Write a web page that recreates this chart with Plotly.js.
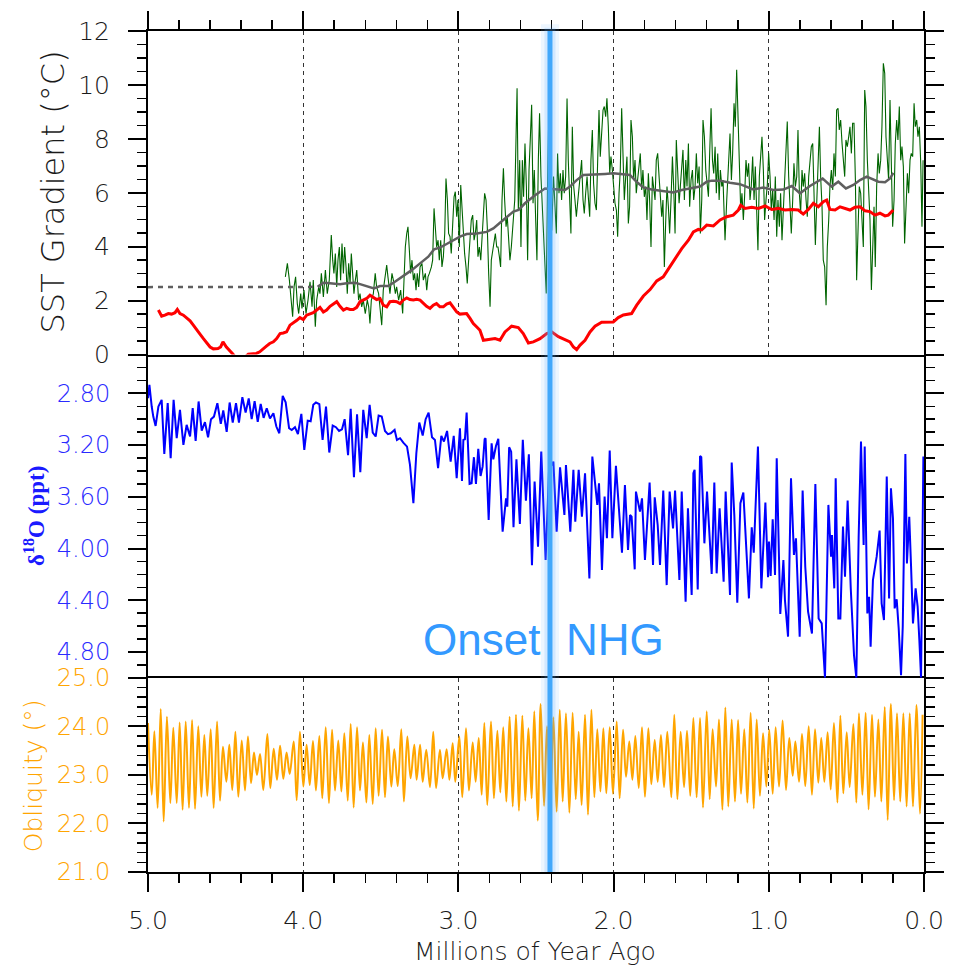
<!DOCTYPE html>
<html><head><meta charset="utf-8">
<script src="https://cdn.plot.ly/plotly-3.0.1.min.js"></script>
<style>html,body{margin:0;padding:0;background:#fff;} #chart{width:958px;height:965px;}</style>
</head><body><div id="chart"></div>
<script>
// ---------- SST gradient (green, high-resolution) ----------
const sstAge = [
4.115,4.102,4.089,4.076,4.068,4.059,4.049,4.038,4.029,4.016,
4.008,3.995,3.982,3.969,3.956,3.943,3.935,3.922,3.913,3.900,
3.892,3.883,3.870,3.857,3.845,3.832,3.819,3.810,3.802,3.793,
3.784,3.776,3.767,3.759,3.750,3.741,3.733,3.724,3.716,3.707,
3.698,3.690,3.681,3.673,3.664,3.655,3.643,3.634,3.623,3.613,
3.600,3.587,3.578,3.570,3.561,3.548,3.536,3.527,3.514,3.505,
3.494,3.484,3.471,3.462,3.454,3.441,3.428,3.419,3.406,3.398,
3.385,3.372,3.359,3.351,3.342,3.333,3.325,3.316,3.308,3.299,
3.290,3.282,3.273,3.265,3.256,3.247,3.235,3.226,3.213,3.204,
3.196,3.187,3.174,3.166,3.157,3.149,3.140,3.131,3.123,3.114,
3.106,3.097,3.088,3.080,3.071,3.063,3.054,3.046,3.037,3.028,
3.020,3.011,3.003,2.994,2.985,2.977,2.968,2.960,2.951,2.943,
2.934,2.925,2.917,2.908,2.899,2.891,2.882,2.874,2.865,2.856,
2.848,2.839,2.831,2.822,2.814,2.805,2.796,2.788,2.775,2.762,
2.753,2.745,2.736,2.728,2.719,2.710,2.702,2.693,2.685,2.676,
2.668,2.659,2.646,2.637,
2.622,2.614,2.605,2.597,2.588,2.580,2.571,2.562,2.554,2.545,
2.537,2.528,2.519,2.511,2.502,2.494,2.485,2.477,2.468,2.459,
2.451,2.442,2.434,2.425,2.416,2.408,2.399,2.387,2.378,2.369,
2.361,2.352,2.343,2.335,2.326,2.318,2.309,2.300,2.292,2.283,
2.275,2.266,2.257,2.249,2.240,2.232,2.223,2.214,2.206,2.197,
2.189,2.180,2.171,2.163,2.154,2.146,2.137,2.129,2.120,2.111,
2.103,2.094,2.086,2.077,2.068,2.060,2.051,2.043,2.034,2.025,
2.017,2.008,2.000,1.991,1.982,1.974,1.965,1.957,1.948,1.940,
1.931,1.922,1.914,1.905,1.897,1.888,1.879,1.871,1.862,1.854,
1.845,1.836,1.828,1.819,1.811,1.802,1.793,1.785,1.776,1.768,
1.759,1.750,1.742,1.733,1.725,1.716,1.707,1.699,1.690,1.682,
1.673,1.664,1.656,1.647,1.639,1.630,1.621,1.613,1.604,1.596,
1.587,1.578,1.570,1.561,1.553,1.544,1.535,1.527,1.518,1.510,
1.501,1.492,1.484,1.475,1.467,1.458,1.449,1.441,1.432,1.424,
1.415,1.406,1.398,1.389,1.381,1.372,1.363,1.355,1.346,1.338,
1.329,1.320,1.312,1.303,1.295,1.286,
1.282,1.271,1.261,1.250,1.241,1.233,1.224,1.216,1.207,1.198,
1.190,1.181,1.173,1.164,1.156,1.147,1.138,1.130,1.121,1.113,
1.104,1.095,1.087,1.078,1.070,1.061,1.052,1.044,1.035,1.027,
1.018,1.009,1.001,0.992,0.984,0.975,0.966,0.958,0.949,0.941,
0.932,0.924,0.915,0.906,0.898,0.889,0.881,0.872,0.863,0.855,
0.846,0.838,0.829,0.820,0.812,0.803,0.795,0.786,0.778,0.769,
0.760,0.752,0.743,0.735,0.726,0.717,0.709,0.700,0.692,0.683,
0.674,0.666,0.657,0.649,0.640,0.631,0.623,0.614,0.606,0.597,
0.588,0.580,0.571,0.563,0.554,0.546,0.537,0.528,0.520,0.511,
0.503,0.494,0.485,0.477,0.468,0.460,0.451,0.442,0.434,0.425,
0.417,0.408,0.399,0.391,0.382,0.374,0.365,0.357,0.348,0.339,
0.331,0.322,0.314,0.305,0.296,0.288,0.279,0.271,0.262,0.253,
0.245,0.236,0.228,0.219,0.211,0.202,0.193,0.185,0.176,0.168,
0.159,0.150,0.142,0.133,0.125,0.116,0.107,0.099,0.090,0.082,
0.073,0.064,0.056,0.047,0.039,0.030,0.021,0.013,0.006
];
const sstVal = [
2.88,3.38,2.76,2.02,1.40,2.51,2.88,1.89,1.52,2.26,
1.71,2.39,1.52,2.02,2.70,1.77,2.76,1.03,2.02,2.51,
2.26,3.01,2.14,3.13,2.26,2.76,4.43,3.50,3.01,3.75,
2.51,3.50,3.99,2.76,4.12,3.01,3.99,3.25,2.26,3.38,
2.64,3.75,3.13,2.26,2.76,3.13,2.02,2.26,1.77,2.02,
1.52,2.02,1.77,1.15,2.02,2.26,3.01,2.51,2.26,1.77,
1.09,2.39,3.01,3.32,2.88,2.26,3.01,2.76,2.26,2.51,
2.02,2.39,1.52,3.01,3.99,4.49,4.74,3.87,3.01,3.50,
2.76,3.01,2.39,3.01,2.51,3.25,3.38,2.76,3.01,2.39,
2.88,3.01,3.25,3.50,5.42,4.74,3.99,4.24,3.50,4.24,
3.25,3.63,4.49,6.53,5.73,4.49,4.37,3.75,4.99,5.85,
6.04,5.11,5.73,3.99,6.29,5.36,4.49,3.75,3.25,2.64,
3.50,4.37,4.99,5.17,4.24,4.49,4.99,3.63,3.99,3.50,
4.24,4.99,5.98,5.73,4.74,3.01,1.77,3.50,3.99,4.49,
3.99,3.99,3.63,3.25,5.73,6.91,5.73,4.74,5.11,4.24,
3.50,3.99,5.11,5.73,
9.88,5.36,7.21,3.99,7.21,5.85,7.83,6.23,3.50,6.84,
7.96,9.26,5.61,6.84,4.99,3.50,7.21,8.95,6.60,5.48,
4.49,3.25,2.26,6.60,9.38,5.61,4.60,6.60,5.48,4.49,
7.46,5.98,6.72,5.73,6.84,5.98,6.60,9.50,7.21,5.36,
4.49,8.45,6.23,5.73,5.11,5.61,6.23,6.84,7.21,5.73,
5.23,5.98,6.60,5.85,5.11,7.21,8.33,6.35,5.61,5.36,
7.46,9.07,7.34,8.45,9.07,9.20,8.82,9.50,8.45,6.72,
7.34,6.84,6.35,5.61,5.36,4.37,5.98,6.84,9.13,7.21,
5.73,6.60,7.34,4.86,5.48,8.70,8.08,6.47,7.21,5.98,
6.60,7.09,7.46,6.10,6.84,5.85,6.23,4.99,6.72,5.73,
3.99,6.60,6.23,5.73,7.21,7.46,6.60,5.98,5.11,5.73,
3.25,4.99,6.23,5.48,4.49,5.73,7.34,6.23,4.49,7.96,
6.84,5.61,6.23,7.09,7.59,5.73,7.21,6.23,7.83,5.48,
6.47,6.84,5.73,6.23,7.46,6.35,6.97,4.49,5.73,8.70,
8.08,6.84,6.47,5.85,7.46,9.13,7.21,6.72,7.71,5.98,
7.46,5.73,6.84,6.23,6.47,4.37,
4.24,5.73,7.21,8.20,6.47,7.46,9.32,8.45,10.56,8.45,
6.84,5.36,5.98,4.99,5.85,7.21,6.60,7.09,5.73,6.23,
7.34,5.73,6.97,5.23,3.87,6.60,7.46,8.08,6.84,4.99,
5.73,6.35,7.46,6.60,5.36,6.10,4.99,6.60,4.37,5.73,
4.74,5.98,4.24,5.48,6.84,7.46,8.64,6.60,5.36,4.49,
5.73,7.09,6.23,6.60,8.33,5.98,5.23,6.84,6.23,6.72,
5.73,5.11,6.60,7.21,7.71,7.83,5.73,4.06,5.48,7.21,
8.45,6.60,5.48,3.50,3.25,1.83,3.99,4.99,6.23,6.84,
6.10,7.46,6.60,9.07,9.13,8.33,8.70,7.83,7.21,6.60,
7.96,7.71,8.08,8.45,7.46,8.58,8.58,6.47,2.76,4.49,
6.23,5.98,5.11,3.99,9.81,9.20,7.21,6.23,4.99,2.39,
3.99,5.48,3.25,6.23,7.46,6.72,7.21,8.45,10.80,10.43,
8.08,7.21,6.47,9.44,7.21,4.74,5.73,7.83,8.70,7.96,
9.20,7.21,7.71,6.97,4.12,5.73,6.72,5.98,7.21,7.46,
7.34,9.32,8.45,8.70,8.08,8.45,7.09,4.74,7.21
];

// ---------- smoothed SST gradient (grey) ----------
const baseAge = [5.0, 3.907];
const baseVal = [2.5, 2.51];
const smoothAge = [3.907,3.870,3.828,3.763,3.720,3.666,3.634,3.591,3.544,3.505,
3.452,3.409,3.355,3.301,3.247,3.194,3.157,3.119,3.076,3.033,
2.990,2.947,2.882,2.818,2.775,2.732,2.689,2.646,2.612,2.571,
2.506,2.442,2.399,2.356,2.313,2.281,2.238,2.195,2.120,2.055,
2.002,1.948,1.895,1.852,1.809,1.755,1.690,1.615,1.561,1.497,
1.443,1.400,1.368,1.314,1.250,1.186,1.100,1.035,0.971,0.906,
0.852,0.799,0.735,0.653,0.595,0.552,0.503,0.455,0.412,0.369,
0.326,0.294,0.251,0.219,0.197];
const smoothVal = [2.51,2.66,2.64,2.61,2.64,2.66,2.61,2.54,2.45,2.54,
2.54,2.70,2.91,3.13,3.38,3.63,3.90,3.97,4.10,4.24,
4.37,4.47,4.49,4.55,4.68,4.89,5.11,5.30,5.36,5.61,
5.91,6.16,6.14,6.12,6.10,6.23,6.47,6.66,6.67,6.70,
6.72,6.70,6.66,6.41,6.20,6.12,6.08,6.01,6.10,6.16,
6.23,6.41,6.45,6.45,6.37,6.32,6.12,6.19,6.10,6.12,
6.25,5.98,6.25,6.53,6.23,6.41,6.16,6.29,6.47,6.60,
6.50,6.41,6.39,6.53,6.74];

// ---------- red curve ----------
const redAge = [4.933,4.912,4.891,4.869,4.848,4.826,4.811,4.794,4.772,4.751,
4.729,4.708,4.686,4.665,4.643,4.621,4.600,4.579,4.549,4.532,
4.517,4.495,4.474,4.452,4.431,4.397,4.354,4.323,4.302,4.280,
4.259,4.237,4.216,4.192,4.171,4.149,4.128,4.107,4.085,4.063,
4.041,4.021,3.999,3.978,3.956,3.935,3.913,3.892,3.870,3.849,
3.827,3.806,3.784,3.763,3.741,3.720,3.698,3.677,3.655,3.634,
3.613,3.591,3.570,3.548,3.527,3.505,3.484,3.462,3.441,3.419,
3.398,3.376,3.355,3.333,3.312,3.290,3.269,3.247,3.226,3.205,
3.183,3.162,3.141,3.119,3.097,3.076,3.054,3.033,3.011,2.990,
2.969,2.947,2.925,2.904,2.883,2.861,
2.839,2.807,2.764,2.732,2.700,2.657,2.614,2.582,2.549,2.517,
2.474,2.431,2.399,2.356,2.313,2.281,2.259,2.238,2.216,2.184,
2.152,2.120,2.077,2.034,2.002,1.970,1.937,1.884,1.851,1.808,
1.765,1.722,1.680,1.637,1.594,1.561,1.518,1.486,1.454,1.433,
1.400,1.357,1.314,1.271,1.229,1.196,1.181,1.153,1.110,1.067,
1.024,0.981,0.939,0.896,0.853,0.810,0.778,0.745,0.713,0.681,
0.649,0.627,0.606,0.573,0.541,0.509,0.477,0.445,0.412,0.380,
0.348,0.316,0.284,0.251,0.230,0.198];
const redVal = [1.65,1.42,1.46,1.52,1.50,1.55,1.67,1.52,1.46,1.34,
1.25,1.09,0.90,0.76,0.59,0.43,0.28,0.21,0.22,0.28,
0.47,0.28,0.16,0.01,-0.15,-0.21,0.01,0.04,0.04,0.10,
0.22,0.31,0.41,0.47,0.59,0.78,0.80,0.84,1.09,1.17,
1.27,1.37,1.30,1.46,1.52,1.55,1.65,1.75,1.58,1.65,
1.79,1.87,1.96,1.79,1.65,1.71,1.67,1.67,1.75,1.96,
2.02,2.08,2.20,2.10,2.04,2.08,1.83,1.77,1.96,1.98,
1.96,1.89,2.02,2.10,2.04,2.02,2.05,2.02,1.89,1.79,
1.71,1.83,1.89,1.77,1.77,1.87,1.92,1.75,1.58,1.50,
1.52,1.52,1.34,1.15,1.03,0.90,
0.53,0.56,0.59,0.53,0.84,1.05,1.00,0.78,0.43,0.47,
0.59,0.78,0.84,0.66,0.56,0.47,0.28,0.18,0.35,0.53,
0.84,1.05,1.20,1.20,1.21,1.37,1.47,1.52,1.83,2.17,
2.41,2.73,2.88,3.26,3.63,3.93,4.24,4.55,4.64,4.62,
4.80,4.77,4.99,5.11,5.17,5.36,5.54,5.42,5.46,5.42,
5.51,5.38,5.42,5.36,5.38,5.36,5.21,5.38,5.61,5.48,
5.67,5.73,5.38,5.36,5.48,5.42,5.36,5.46,5.48,5.33,
5.30,5.17,5.24,5.14,5.17,5.36];

// ---------- delta 18O (blue) ----------
const d18Age = [
5.000,4.991,4.976,4.966,4.951,4.933,4.912,4.895,4.873,4.854,
4.835,4.815,4.794,4.772,4.751,4.729,4.712,4.693,4.674,4.654,
4.633,4.613,4.594,4.575,4.553,4.531,4.515,4.493,4.474,4.454,
4.433,4.414,4.392,4.371,4.351,4.332,4.313,4.293,4.274,4.255,
4.235,4.214,4.192,4.173,4.154,4.132,4.113,4.091,4.074,4.053,
4.034,4.012,3.993,3.971,3.952,3.935,3.918,3.896,3.875,3.853,
3.832,3.810,3.789,3.769,3.750,3.733,3.711,3.694,3.673,3.653,
3.632,3.613,3.591,3.572,3.552,3.533,3.514,3.494,3.473,3.454,
3.436,3.411,3.396,3.376,3.355,3.331,3.312,3.290,3.271,3.252,
3.230,3.211,3.192,3.170,3.151,3.131,3.110,3.093,3.073,3.050,
3.030,3.011,2.990,2.977,2.968,2.958,2.947,2.928,2.915,2.900,
2.887,2.872,2.857,2.844,2.831,2.825,2.805,2.786,2.775,2.758,
2.743,2.715,2.693,2.685,2.673,2.660,2.645,2.626,2.604,2.585,
2.565,2.546,2.526,2.509,2.487,2.466,2.438,2.416,2.388,2.367,
2.345,2.317,2.307,2.279,2.259,2.247,2.225,2.204,2.184,2.156,
2.137,2.120,2.105,2.094,2.075,2.058,2.043,2.025,2.008,1.985,
1.967,1.946,1.927,1.907,1.894,1.884,1.864,1.856,1.830,1.817,
1.798,1.768,1.746,1.735,1.716,1.701,1.680,1.658,1.639,1.617,
1.604,1.576,1.561,1.536,1.521,1.497,1.486,1.478,1.458,1.443,
1.435,1.415,1.398,1.368,1.351,1.336,1.317,1.291,1.278,1.250,
1.239,1.222,1.203,1.183,1.164,1.128,1.110,1.097,1.070,1.048,
1.022,1.005,0.999,0.988,0.975,0.960,0.949,0.926,0.906,0.896,
0.876,0.857,0.838,0.825,0.801,0.782,0.765,0.747,0.722,0.700,
0.679,0.659,0.638,0.616,0.599,0.593,0.578,0.569,0.552,0.539,
0.522,0.509,0.492,0.472,0.451,0.436,0.421,0.406,0.389,0.382,
0.365,0.354,0.344,0.329,0.305,0.286,0.273,0.258,0.240,0.225,
0.213,0.200,0.189,0.176,0.163,0.148,0.137,0.120,0.110,0.095,
0.084,0.071,0.054,0.041,0.030,0.019,0.004];
const d18Val = [
2.838,2.734,2.902,2.980,3.052,2.902,2.851,3.269,2.876,3.302,
2.851,3.147,2.928,3.199,3.044,3.134,2.915,3.168,2.863,3.088,
3.023,3.140,3.000,2.980,2.876,3.036,2.933,3.098,2.871,3.026,
2.876,3.026,2.830,2.949,2.840,3.000,2.861,3.021,2.882,2.990,
2.915,2.995,2.954,3.057,3.109,2.820,2.869,3.070,3.083,3.062,
3.116,2.959,3.238,3.011,3.016,2.889,2.871,2.884,3.160,2.902,
3.258,3.049,3.062,3.091,3.078,3.000,3.279,2.920,3.449,2.962,
3.410,2.928,3.147,2.889,3.103,3.134,2.972,2.980,3.091,3.116,
3.109,3.083,3.160,3.147,3.181,3.212,3.354,3.650,3.263,3.026,
3.127,3.000,2.949,3.140,3.160,3.379,3.129,3.173,3.091,3.328,
3.129,3.457,3.070,3.478,3.160,3.155,2.949,3.501,3.496,3.294,
3.501,3.230,3.439,3.367,3.155,3.147,3.779,3.186,3.310,3.207,
3.152,3.870,3.612,3.676,3.217,3.251,3.836,3.310,3.810,3.160,
3.630,3.271,4.130,3.483,3.986,3.251,4.089,3.392,3.328,3.870,
3.372,3.741,3.354,3.870,3.392,3.792,3.392,3.754,3.418,4.231,
3.289,3.496,3.663,3.496,4.166,3.599,3.921,3.243,3.921,3.361,
3.638,4.032,3.509,4.012,3.741,3.754,4.161,3.560,3.715,3.612,
4.089,3.490,4.128,3.604,3.818,4.128,3.552,4.283,3.560,3.844,
3.552,4.244,3.560,4.411,3.689,4.360,3.418,3.392,4.316,3.284,
3.294,3.960,3.560,4.197,3.490,4.192,3.689,4.257,3.560,4.360,
3.336,3.748,4.419,3.650,3.568,4.386,3.836,4.032,3.212,4.308,
3.645,4.223,3.947,4.213,3.774,4.205,3.302,4.507,4.089,4.399,
4.682,3.457,4.050,3.921,4.682,3.552,4.141,4.489,4.657,3.501,
4.541,4.579,5.000,3.663,4.063,3.896,4.308,3.457,4.541,4.541,
3.831,4.218,3.630,4.308,4.824,5.000,3.908,3.173,3.973,3.212,
4.502,4.373,4.760,4.244,4.063,3.862,4.424,4.553,3.444,4.386,
3.534,3.767,4.463,4.393,4.618,4.979,4.605,3.269,4.115,3.754,
4.115,4.579,4.308,4.450,4.708,5.000,3.289];

// ---------- obliquity (orange): successive maxima / minima ----------
const oblAge = [
5.000,4.976,4.959,4.938,4.918,4.899,4.878,4.856,4.837,4.815,
4.796,4.777,4.757,4.736,4.716,4.697,4.676,4.656,4.637,4.618,
4.596,4.577,4.555,4.536,4.517,4.495,4.476,4.457,4.437,4.418,
4.396,4.375,4.356,4.336,4.317,4.298,4.278,4.257,4.231,4.212,
4.190,4.169,4.149,4.128,4.107,4.087,4.061,4.042,4.021,3.999,
3.978,3.958,3.937,3.918,3.896,3.877,3.855,3.834,3.814,3.795,
3.774,3.754,3.735,3.713,3.694,3.675,3.653,3.634,3.615,3.593,
3.574,3.552,3.533,3.514,3.492,3.473,3.454,3.432,3.413,3.391,
3.368,3.351,3.329,3.308,3.284,3.269,3.247,3.230,3.207,3.183,
3.162,3.144,3.119,3.101,3.076,3.058,3.037,3.020,2.994,2.975,
2.951,2.932,2.908,2.889,2.869,2.850,2.833,2.814,2.790,2.771,
2.749,2.730,2.711,2.691,2.670,2.650,2.629,2.610,2.588,2.569,
2.549,2.528,2.511,2.489,2.470,2.448,2.429,2.408,2.388,2.367,
2.347,2.328,2.307,2.285,2.264,2.244,2.225,2.206,2.184,2.165,
2.143,2.124,2.105,2.085,2.066,2.047,2.025,2.004,1.980,1.961,
1.939,1.920,1.899,1.879,1.860,1.838,1.817,1.798,1.776,1.757,
1.735,1.716,1.695,1.675,1.654,1.628,1.609,1.589,1.568,1.546,
1.527,1.506,1.486,1.465,1.443,1.424,1.400,1.381,1.362,1.340,
1.321,1.299,1.280,1.261,1.239,1.218,1.198,1.179,1.158,1.138,
1.117,1.097,1.078,1.057,1.037,1.016,0.997,0.975,0.956,0.934,
0.911,0.889,0.868,0.846,0.829,0.805,0.786,0.765,0.743,0.722,
0.702,0.681,0.662,0.642,0.621,0.601,0.580,0.558,0.539,0.520,
0.498,0.479,0.455,0.436,0.419,0.397,0.376,0.357,0.335,0.316,
0.294,0.275,0.253,0.234,0.213,0.193,0.174,0.153,0.133,0.112,
0.092,0.071,0.049,0.026,0.009];
const oblVal = [
24.07,22.59,23.90,22.32,24.36,22.04,24.20,22.42,23.97,22.42,
24.08,22.28,24.10,22.32,24.13,22.30,24.00,22.55,23.82,22.57,
23.94,22.32,24.10,22.47,23.58,22.86,23.62,22.69,23.89,22.55,
23.71,22.68,23.79,22.83,23.46,23.00,23.43,22.69,23.84,22.73,
23.54,22.90,23.60,22.92,23.46,23.02,23.69,22.48,23.89,22.76,
23.62,22.79,23.70,22.68,23.80,22.52,23.98,22.42,23.93,22.68,
23.71,22.66,23.86,22.47,24.05,22.33,23.98,22.68,23.67,22.43,
23.82,22.40,23.96,22.57,23.93,22.54,23.79,22.76,23.53,22.77,
23.94,22.45,23.79,22.93,23.62,22.90,23.62,22.86,23.52,22.75,
23.89,22.73,23.52,22.93,23.53,22.90,23.65,22.86,23.79,22.54,
23.96,22.68,23.67,22.86,23.76,22.59,24.07,22.38,24.10,22.52,
23.91,22.64,23.98,22.45,24.20,22.35,24.24,22.26,24.22,22.47,
23.96,22.52,24.31,22.06,24.46,22.36,24.00,22.42,24.19,22.24,
24.34,22.45,24.27,22.22,24.28,22.50,23.89,22.38,24.24,22.18,
24.34,22.54,23.94,22.66,23.96,22.62,23.98,22.61,24.10,22.52,
23.93,22.96,23.69,22.90,23.80,22.73,23.98,22.55,23.96,22.81,
23.72,22.86,23.82,22.75,23.89,22.54,24.24,22.50,23.89,22.75,
23.91,22.57,24.17,22.54,24.17,22.33,24.31,22.50,23.94,22.76,
24.14,22.28,24.39,22.35,24.14,22.45,24.13,22.61,23.94,22.43,
24.28,22.31,24.14,22.57,23.86,22.76,23.93,22.61,23.98,22.76,
24.12,22.69,23.76,22.98,23.69,22.86,23.84,22.77,24.00,22.59,
23.94,22.84,23.76,22.86,23.88,22.70,24.07,22.43,24.22,22.62,
23.88,22.75,24.05,22.43,24.27,22.59,24.28,22.29,24.24,22.55,
24.14,22.45,24.40,22.07,24.46,22.48,24.27,22.45,24.27,22.35,
24.27,22.35,24.44,22.20,24.24];

// ---------- axis ticks / labels ----------
const xTicks = [5, 4, 3, 2, 1, 0];
const onsetAge = 2.41;
const onsetWords = ['Onset', 'NHG'];

const FONT = 'DejaVu Sans, sans-serif';
const W = 200;              // DejaVu Sans ExtraLight face
const GREY_TXT = '#1a1a1a';
const TICK_SIZE = 24;

const traces = [
  {x: sstAge, y: sstVal, xaxis:'x3', yaxis:'y3', type:'scatter', mode:'lines',
   line:{color:'#006400', width:1.1}, hoverinfo:'skip'},
  {x: baseAge, y: baseVal, xaxis:'x3', yaxis:'y3', type:'scatter', mode:'lines',
   line:{color:'#5f5f5f', width:2.5, dash:'5px,5px'}, hoverinfo:'skip'},
  {x: smoothAge, y: smoothVal, xaxis:'x3', yaxis:'y3', type:'scatter', mode:'lines',
   line:{color:'#5f5f5f', width:2.5}, hoverinfo:'skip'},
  {x: redAge, y: redVal, xaxis:'x3', yaxis:'y3', type:'scatter', mode:'lines',
   line:{color:'#ff0000', width:3}, hoverinfo:'skip'},
  {x: d18Age, y: d18Val, xaxis:'x2', yaxis:'y2', type:'scatter', mode:'lines',
   line:{color:'#0000ff', width:2}, hoverinfo:'skip'},
  {x: oblAge, y: oblVal, xaxis:'x', yaxis:'y', type:'scatter', mode:'lines',
   line:{color:'#ffa500', width:2, shape:'spline', smoothing:1}, hoverinfo:'skip'}
];

const lineCommon = {showline:true, linecolor:'#000', linewidth:2, zeroline:false,
  ticks:'outside', ticklen:18, tickwidth:2, tickcolor:'#000', fixedrange:true};
const xMinor = {dtick:0.2, ticklen:9, tickwidth:1.5, tickcolor:'#000', ticks:'outside', showgrid:false};
const gridStyle = {showgrid:true, gridcolor:'#333', gridwidth:1, griddash:'4px,4px'};

const D1 = 0.2309, D2 = 0.6153;

const layout = {
  width:958, height:965,
  margin:{l:148, r:34, t:31, b:93, pad:0},
  paper_bgcolor:'#fff', plot_bgcolor:'rgba(0,0,0,0)',
  showlegend:false,
  xaxis: Object.assign({}, lineCommon, gridStyle, {
    domain:[0,1], anchor:'y', range:[5,0], tickmode:'array', tickvals:xTicks,
    tickformat:'.1f', mirror:true, minor:xMinor,
    tickfont:{family:FONT, weight:W, size:25, color:GREY_TXT}, ticklabelstandoff:7
  }),
  xaxis2: {domain:[0,1], anchor:'y2', matches:'x', range:[5,0], showline:false,
    ticks:'', showticklabels:false, showgrid:false, zeroline:false},
  xaxis3: Object.assign({}, lineCommon, gridStyle, {
    domain:[0,1], anchor:'y3', matches:'x', side:'top', range:[5,0], tickmode:'array',
    tickvals:xTicks, showticklabels:false, mirror:true, minor:xMinor
  }),
  yaxis: Object.assign({}, lineCommon, {
    domain:[0,D1], anchor:'x', range:[21,25], tick0:21, dtick:1, tickformat:'.1f',
    mirror:'ticks', showgrid:false,
    minor:{dtick:0.2, ticklen:9, tickwidth:1.5, tickcolor:'#000', ticks:'outside', showgrid:false},
    tickfont:{family:FONT, weight:W, size:TICK_SIZE, color:'#ffa500'}, ticklabelstandoff:13
  }),
  yaxis2: Object.assign({}, lineCommon, {
    domain:[D1,D2], anchor:'x2', range:[5.0,2.5], tick0:2.8, dtick:0.4, tickformat:'.2f',
    mirror:'ticks', showgrid:false,
    minor:{dtick:0.1, ticklen:9, tickwidth:1.5, tickcolor:'#000', ticks:'outside', showgrid:false},
    tickfont:{family:FONT, weight:W, size:TICK_SIZE, color:'#2a2aff'}, ticklabelstandoff:13
  }),
  yaxis3: Object.assign({}, lineCommon, {
    domain:[D2,1], anchor:'x3', range:[0,12], tick0:0, dtick:2,
    mirror:'ticks', showgrid:false,
    minor:{dtick:0.5, ticklen:9, tickwidth:1.5, tickcolor:'#000', ticks:'outside', showgrid:false},
    tickfont:{family:FONT, weight:W, size:25, color:GREY_TXT}, ticklabelstandoff:13
  }),
  shapes: [
    {type:'line', xref:'x', yref:'paper', x0:onsetAge, x1:onsetAge, y0:0, y1:1.008,
     line:{color:'rgba(110,180,255,0.12)', width:18}, layer:'above'},
    {type:'line', xref:'x', yref:'paper', x0:onsetAge, x1:onsetAge, y0:0, y1:1.004,
     line:{color:'rgba(90,170,255,0.18)', width:11}, layer:'above'},
    {type:'line', xref:'x', yref:'paper', x0:onsetAge, x1:onsetAge, y0:0, y1:1.0,
     line:{color:'#42a8fb', width:5}, layer:'above'}
  ],
  annotations: [
    {xref:'paper', yref:'paper', x:-0.1224, y:0.808, text:'SST Gradient (°C)', textangle:-90,
     showarrow:false, xanchor:'center', yanchor:'middle',
     font:{family:FONT, weight:W, size:32, color:GREY_TXT}},
    {xref:'paper', yref:'paper', x:-0.147, y:0.4233, text:'<b>δ<sup>18</sup>O (ppt)</b>', textangle:-90,
     showarrow:false, xanchor:'center', yanchor:'middle',
     font:{family:'Liberation Serif, Times New Roman, serif', size:23, color:'#1a1aff'}},
    {xref:'paper', yref:'paper', x:-0.148, y:0.1141, text:'Obliquity (°)', textangle:-90,
     showarrow:false, xanchor:'center', yanchor:'middle',
     font:{family:FONT, weight:W, size:25, color:'#ffa500'}},
    {xref:'paper', yref:'paper', x:0.4987, y:-0.095, text:'Millions of Year Ago',
     showarrow:false, xanchor:'center', yanchor:'middle',
     font:{family:FONT, weight:W, size:25, color:GREY_TXT}},
    {xref:'x', yref:'paper', x:2.462, y:0.2759, text:onsetWords[0], showarrow:false,
     xanchor:'right', yanchor:'middle', font:{family:'Liberation Sans, Arial, sans-serif', size:44, color:'#3399ff'}},
    {xref:'x', yref:'paper', x:2.322, y:0.2759, text:onsetWords[1], showarrow:false,
     xanchor:'left', yanchor:'middle', font:{family:'Liberation Sans, Arial, sans-serif', size:44, color:'#3399ff'}}
  ]
};

Plotly.newPlot('chart', traces, layout, {staticPlot:true, displayModeBar:false});
</script>
</body></html>
